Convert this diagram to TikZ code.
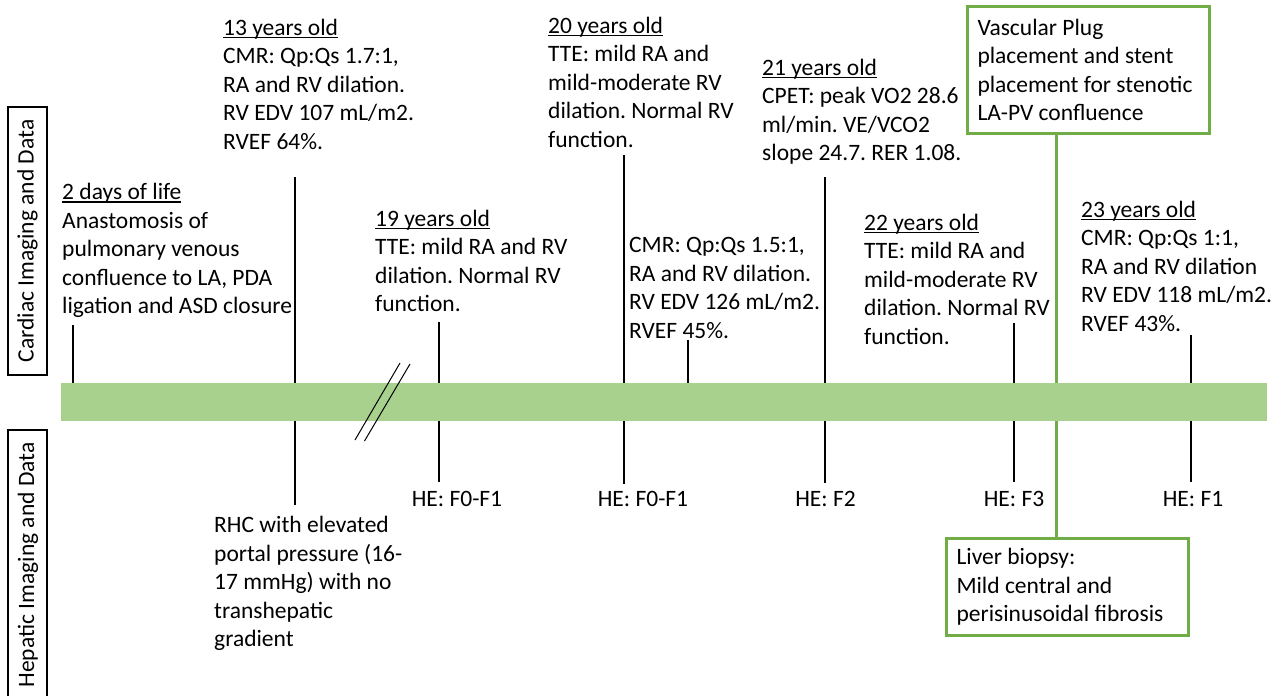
\documentclass[tikz,border=0pt]{standalone}
\usepackage{fontspec}
\setmainfont{Carlito}
\frenchspacing
\definecolor{barg}{HTML}{A9D18E}
\definecolor{boxg}{HTML}{70AD47}
\newcommand{\ulbl}[1]{\setbox0\hbox{#1}\rlap{\rule[-3.2pt]{\wd0}{1.4pt}}\box0}
\begin{document}
\begin{tikzpicture}[x=1pt,y=-1pt,
  txt/.style={anchor=north west, align=left, inner sep=0pt, font=\fontsize{23.5}{28.6}\selectfont\frenchspacing, execute at begin node=\strut},
  lbl/.style={inner sep=0pt, font=\fontsize{23.5}{28.6}\selectfont\frenchspacing},
  tick/.style={line width=1.3pt, black},
  sidebox/.style={draw, line width=1.5pt, inner sep=0pt, font=\fontsize{23.5}{28.6}\selectfont},
  gbox/.style={draw=boxg, line width=3pt, align=flush left, font=\fontsize{23.5}{28.6}\selectfont\frenchspacing, inner xsep=10pt, inner ysep=0pt, anchor=north west},
  gline/.style={draw=boxg, line width=3pt},
  brk/.style={line width=1pt, black}]
\useasboundingbox (0,0) rectangle (1288,696);

% side labels
\node[sidebox, rotate=90, minimum width=268pt, minimum height=39pt] (cbox) at (27.5,241) {Cardiac Imaging and Data};
\draw[line width=1.5pt] (8,696) |- (47,430) -- (47,696);
\node[lbl, rotate=90] (htext) at (28,565) {Hepatic Imaging and Data};

% green boxes
\node[gbox, text width=222pt, minimum width=242pt, minimum height=127pt] (vplug) at (966,5)
  {Vascular Plug\\placement and stent\\placement for stenotic\\LA-PV confluence};
\node[gbox, text width=222pt, minimum width=242pt, minimum height=97pt] (liver) at (945,537)
  {Liver biopsy:\\Mild central and\\perisinusoidal fibrosis};
\coordinate (gx) at (1056,0);
\draw[gline] (vplug.south -| gx) -- (liver.north -| gx);

% bar
\node[fill=barg, minimum width=1206pt, minimum height=38pt, inner sep=0pt, anchor=north west] (bar) at (61,383) {};

% ticks above
\coordinate (a1) at (73,325);
\coordinate (a2) at (295,177);
\coordinate (a3) at (439,322);
\coordinate (a4) at (624,155);
\coordinate (a5) at (688,340);
\coordinate (a6) at (825,177);
\coordinate (a7) at (1014,323);
\coordinate (a8) at (1191,335);
\foreach \c in {a1,a2,a3,a4,a5,a6,a7,a8} \draw[tick] (\c) -- (\c |- bar.north);

% ticks below
\coordinate (b2) at (295,505);
\coordinate (b3) at (439,482);
\coordinate (b4) at (624,484);
\coordinate (b6) at (825,483);
\coordinate (b7) at (1014,482);
\coordinate (b8) at (1191,482);
\foreach \c in {b2,b3,b4,b6,b7,b8} \draw[tick] (bar.south -| \c) -- (\c);

% break marks
\coordinate (k1a) at (355,440);
\coordinate (k1b) at (400,363);
\coordinate (k2a) at (364.5,441);
\coordinate (k2b) at (410,364);
\draw[brk] (k1a) -- (k1b);
\draw[brk] (k2a) -- (k2b);

% texts above
\node[txt] (t2d) at (62,183) {\ulbl{2 days of life}\\Anastomosis of\\pulmonary venous\\confluence to LA, PDA\\ligation and ASD closure};
\node[txt] (t13) at (223,18.5) {\ulbl{13 years old}\\CMR: Qp:Qs 1.7:1,\\RA and RV dilation.\\RV EDV 107 mL/m2.\\RVEF 64\%.};
\node[txt] (t19) at (375,209.5) {\ulbl{19 years old}\\TTE: mild RA and RV\\dilation. Normal RV\\function.};
\node[txt] (t20) at (548,16.5) {\ulbl{20 years old}\\TTE: mild RA and\\mild-moderate RV\\dilation. Normal RV\\function.};
\node[txt] (tcmr) at (629,237) {CMR: Qp:Qs 1.5:1,\\RA and RV dilation.\\RV EDV 126 mL/m2.\\RVEF 45\%.};
\node[txt] (t21) at (762,58.5) {\ulbl{21 years old}\\CPET: peak VO2 28.6\\ml/min. VE/VCO2\\slope 24.7. RER 1.08.};
\node[txt] (t22) at (864,213.5) {\ulbl{22 years old}\\TTE: mild RA and\\mild-moderate RV\\dilation. Normal RV\\function.};
\node[txt] (t23) at (1081,200.5) {\ulbl{23 years old}\\CMR: Qp:Qs 1:1,\\RA and RV dilation\\RV EDV 118 mL/m2.\\RVEF 43\%.};

% texts below
\node[txt] (trhc) at (214,516) {RHC with elevated\\portal pressure (16-\\17 mmHg) with no\\transhepatic\\gradient};
\node[lbl, anchor=base] (he1) at (457,506) {HE: F0-F1};
\node[lbl, anchor=base] (he2) at (643,506) {HE: F0-F1};
\node[lbl, anchor=base] (he3) at (825.5,506) {HE: F2};
\node[lbl, anchor=base] (he4) at (1014,506) {HE: F3};
\node[lbl, anchor=base] (he5) at (1193,506) {HE: F1};
\end{tikzpicture}
\end{document}
